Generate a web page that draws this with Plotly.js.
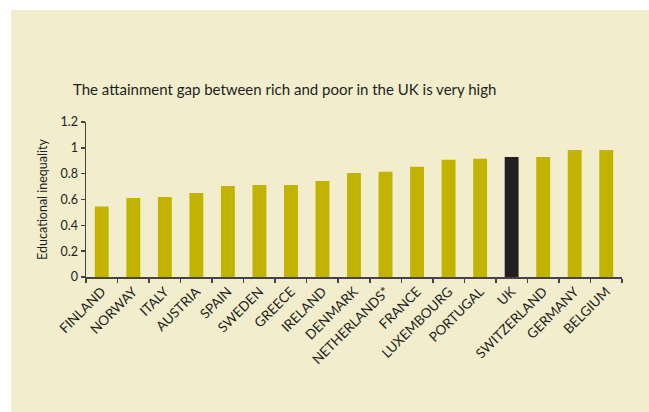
<!DOCTYPE html>
<html>
<head>
<meta charset="utf-8">
<script src="https://cdn.plot.ly/plotly-3.0.1.min.js"></script>
<style>
  html, body { margin: 0; padding: 0; background: #ffffff; width: 649px; height: 412px; overflow: hidden; }
  #chart { position: absolute; left: 11px; top: 10px; width: 638px; height: 402px; }
</style>
</head>
<body>
<div id="chart"></div>
<script>
const countries = ["FINLAND", "NORWAY", "ITALY", "AUSTRIA", "SPAIN", "SWEDEN", "GREECE", "IRELAND", "DENMARK", "NETHERLANDS*", "FRANCE", "LUXEMBOURG", "PORTUGAL", "UK", "SWITZERLAND", "GERMANY", "BELGIUM"];
const inequality = [0.545, 0.612, 0.62, 0.651, 0.705, 0.713, 0.713, 0.744, 0.806, 0.814, 0.853, 0.907, 0.915, 0.93, 0.93, 0.984, 0.984];
const highlight = "UK";
const yTicks = [0, 0.2, 0.4, 0.6, 0.8, 1, 1.2];
const yTickText = ["0", "0.2", "0.4", "0.6", "0.8", "1", "1.2"];

const barColor = "#c2b300";
const ukColor = "#231f20";
const ink = "#231f20";
const FONT = "Lato, 'Open Sans', sans-serif";

const trace = {
  type: "bar",
  x: countries,
  y: inequality,
  marker: { color: countries.map(c => c === highlight ? ukColor : barColor) },
  hoverinfo: "x+y"
};

const layout = {
  width: 638,
  height: 402,
  paper_bgcolor: "#f2edcc",
  plot_bgcolor: "#f2edcc",
  margin: { l: 75, r: 27, t: 112, b: 135 },
  bargap: 0.56,
  showlegend: false,
  font: { family: FONT, color: ink },
  title: {
    text: "The attainment gap between rich and poor in the UK is very high",
    font: { family: FONT, size: 15, color: ink },
    xref: "container", x: 62 / 638, xanchor: "left",
    yref: "container", y: 1 - 80 / 402, yanchor: "middle"
  },
  xaxis: {
    type: "category",
    tickangle: -45,
    tickson: "boundaries",
    ticks: "outside",
    ticklen: 4,
    tickwidth: 1.5,
    tickcolor: "#444",
    showline: true,
    linecolor: "#444",
    linewidth: 1.5,
    showgrid: false,
    zeroline: false,
    tickfont: { family: FONT, size: 13.5, color: ink }
  },
  yaxis: {
    range: [0, 1.2],
    tickvals: yTicks,
    ticktext: yTickText,
    ticks: "outside",
    ticklen: 4,
    tickwidth: 1.5,
    tickcolor: "#444",
    showline: true,
    linecolor: "#444",
    linewidth: 1.5,
    showgrid: false,
    zeroline: false,
    tickfont: { family: FONT, size: 12.5, color: ink },
    title: { text: "Educational inequality", font: { family: FONT, size: 12.5, color: ink }, standoff: 10 }
  }
};

Plotly.newPlot("chart", [trace], layout, { displayModeBar: false, staticPlot: true });
</script>
</body>
</html>
